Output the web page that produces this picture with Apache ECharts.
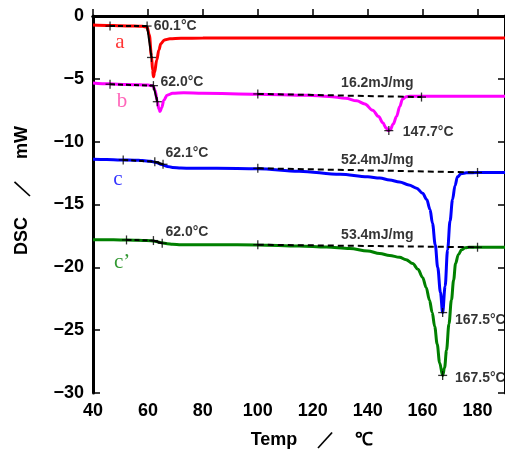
<!DOCTYPE html>
<html><head><meta charset="utf-8">
<script src="https://cdn.jsdelivr.net/npm/echarts@6/dist/echarts.min.js"></script>
<style>html,body{margin:0;padding:0;background:#fff}#c{width:505px;height:456px}</style>
</head><body><div id="c"></div><script>
// ---- data (temperature in °C, DSC in mW) ----
const tempA = [40, 45, 50, 55, 58, 59.7, 60.5, 61.3, 61.7, 62.0, 62.4, 63.2, 64.0, 64.7, 66, 68, 72, 80, 100, 130, 160, 190];
const dscA  = [-0.72, -0.75, -0.78, -0.8, -0.82, -0.88, -1.5, -3.2, -4.3, -4.83, -4.5, -3.5, -2.7, -2.2, -1.9, -1.82, -1.78, -1.76, -1.75, -1.75, -1.75, -1.75];

const tempB = [40, 46, 52, 57, 60, 61.8, 62.6, 63.4, 64.0, 64.4, 65.0, 65.8, 67, 69, 73, 80, 100, 118, 126, 132, 136, 139, 141.8, 144, 145.5, 146.7, 147.5, 148.2, 149.3, 150.5, 151.7, 152.7, 154, 155.5, 160, 170, 190];
const dscB  = [-5.33, -5.4, -5.45, -5.48, -5.5, -5.55, -5.9, -6.8, -7.4, -7.6, -7.3, -6.7, -6.3, -6.15, -6.1, -6.15, -6.22, -6.3, -6.4, -6.55, -6.75, -7.0, -7.5, -8.0, -8.5, -8.9, -9.12, -9.05, -8.6, -8.0, -7.2, -6.6, -6.42, -6.38, -6.38, -6.38, -6.38];

const tempC = [40, 45, 50, 55, 58, 61, 63, 65, 67, 69, 72, 76, 85, 100, 115, 130, 140, 144.4, 148, 151.6, 155, 157.8, 160, 161.5, 162.7, 163.6, 164.6, 165.5, 166.5, 167.3, 168.2, 169.1, 170, 170.9, 171.8, 172.7, 174, 176, 180, 190];
const dscC  = [-11.4, -11.42, -11.45, -11.47, -11.5, -11.56, -11.66, -11.82, -11.97, -12.05, -12.1, -12.12, -12.12, -12.15, -12.35, -12.6, -12.8, -12.9, -13.05, -13.2, -13.45, -13.7, -14.1, -14.6, -15.4, -16.5, -18.2, -20, -22, -23.6, -21.5, -18.6, -16.3, -14.6, -13.5, -12.8, -12.55, -12.48, -12.45, -12.45];

const tempCp = [40, 45, 50, 55, 58, 61, 63, 65, 67, 69, 72, 76, 85, 100, 115, 125, 133.5, 140, 144.4, 148, 151.6, 154, 156.4, 158.3, 160, 161.3, 162.5, 163.5, 164.4, 165.3, 166.2, 167.3, 168, 168.7, 169.6, 170.5, 171.3, 172, 173, 174.2, 175.5, 177, 180, 190];
const dscCp  = [-17.8, -17.8, -17.82, -17.84, -17.86, -17.88, -17.95, -18.05, -18.12, -18.16, -18.2, -18.2, -18.2, -18.22, -18.3, -18.38, -18.5, -18.7, -18.9, -19.05, -19.2, -19.4, -19.7, -20.15, -20.8, -21.6, -22.6, -23.6, -24.7, -26.1, -27.6, -28.6, -28.0, -26.6, -24.5, -22.6, -21.0, -19.7, -19.0, -18.6, -18.45, -18.4, -18.4, -18.4];

// glass-transition construction lines: [baseline start, baseline end (onset), tangent end]
const tgA  = [[46.2, -0.8], [59.7, -0.8], [61.3, -3.3]];
const tgB  = [[46.2, -5.43], [62.0, -5.54], [63.4, -6.82]];
const tgC  = [[51.0, -11.45], [62.5, -11.6], [65.5, -11.8]];
const tgCp = [[52.2, -17.82], [62.0, -17.87], [65.2, -18.08]];
// melting baselines and peaks
const baseB  = [[100, -6.2], [159.6, -6.45]];
const baseC  = [[100, -12.12], [180, -12.45]];
const baseCp = [[100, -18.2], [180, -18.4]];
const peaks  = [[147.7, -9.12], [167.3, -23.6], [167.3, -28.6]];

const xTicks = [40, 60, 80, 100, 120, 140, 160, 180];
const yTicks = [0, -5, -10, -15, -20, -25, -30];

// text annotations
const annTexts = ['60.1°C', '62.0°C', '62.1°C', '62.0°C', '16.2mJ/mg', '52.4mJ/mg', '53.4mJ/mg', '147.7°C', '167.5°C', '167.5°C'];
const annAt    = [[61.9, -0.8], [64.4, -5.25], [66.2, -10.9], [66.2, -17.2], [143.5, -5.33], [143.5, -11.45], [143.5, -17.4], [152.6, -9.23], [171.6, -24.2], [171.6, -28.8]];
const annAlign = ['left', 'left', 'left', 'left', 'center', 'center', 'center', 'left', 'left', 'left'];
const sampleNames = ['a', 'b', 'c', 'c\u2019'];
const sampleAt    = [[49.8, -2.07], [50.6, -6.84], [49.1, -12.97], [50.6, -19.65]];

const colors = ['#ff0000', '#ff00ff', '#0000ff', '#008000'];
const nameColors = ['#ff0000', '#ff3fa8', '#0000ff', '#008000'];

const zip = (xs, ys) => xs.map((x, i) => [x, ys[i]]);
const FONT = 'Liberation Sans, Arial, sans-serif';

const curves = [zip(tempA, dscA), zip(tempB, dscB), zip(tempC, dscC), zip(tempCp, dscCp)];
const series = [];
curves.forEach((d, i) => series.push({
  type: 'line', data: d, showSymbol: false, smooth: 0.35, smoothMonotone: 'x',
  lineStyle: { color: colors[i], width: 3 }, z: 2, silent: true
}));
const tgs = [tgA, tgB, tgC, tgCp];
const allMarkers = [];
tgs.forEach(t => {
  series.push({ type: 'line', data: [t[0], t[1]], showSymbol: false, lineStyle: { color: '#000', width: 2, type: [5, 3] }, z: 4, silent: true });
  series.push({ type: 'line', data: [t[1], t[2]], showSymbol: false, lineStyle: { color: '#000', width: 2 }, z: 4, silent: true });
  allMarkers.push(...t);
});
[baseB, baseC, baseCp].forEach(b => {
  series.push({ type: 'line', data: b, showSymbol: false, lineStyle: { color: '#000', width: 2, type: [6, 4] }, z: 3, silent: true });
  allMarkers.push(...b);
});
allMarkers.push(...peaks);
series.push({ type: 'scatter', data: allMarkers, symbol: 'rect', symbolSize: [9, 1.3], itemStyle: { color: '#000' }, z: 5, silent: true });
series.push({ type: 'scatter', data: allMarkers, symbol: 'rect', symbolSize: [1.3, 9], itemStyle: { color: '#000' }, z: 5, silent: true });

series.push({
  type: 'scatter', symbolSize: 1, itemStyle: { color: 'rgba(0,0,0,0)' }, z: 6, silent: true,
  data: annTexts.map((t, i) => ({
    value: annAt[i],
    label: {
      show: true, formatter: t, position: annAlign[i] === 'left' ? 'right' : 'inside', distance: 0,
      color: '#000', fontSize: 14, fontFamily: FONT, fontWeight: 'bold'
    }
  }))
});
series.push({
  type: 'scatter', symbolSize: 1, itemStyle: { color: 'rgba(0,0,0,0)' }, z: 6, silent: true,
  data: sampleNames.map((t, i) => ({
    value: sampleAt[i],
    label: { show: true, formatter: t, position: 'inside', color: nameColors[i], fontSize: 21, fontFamily: 'Liberation Serif, Times New Roman, serif' }
  }))
});

const chart = echarts.init(document.getElementById('c'), null, { renderer: 'canvas' });
const axisLine = { show: true, lineStyle: { color: '#000', width: 3 } };
chart.setOption({
  animation: false,
  backgroundColor: '#fff',
  grid: { left: 93, right: 0, top: 16, bottom: 63, containLabel: false },
  xAxis: [{
    type: 'value', min: xTicks[0], max: 190, interval: xTicks[1] - xTicks[0], position: 'bottom',
    axisLine, splitLine: { show: false },
    axisTick: { inside: true, length: 7, lineStyle: { color: '#000', width: 1.5 } },
    axisLabel: { fontSize: 18, color: '#000', margin: 9, fontFamily: FONT, fontWeight: 'bold', showMaxLabel: false },
    name: 'Temp    ／    ℃', nameLocation: 'middle', nameGap: 38,
    nameTextStyle: { fontSize: 18, color: '#000', fontFamily: FONT, fontWeight: 'bold', padding: [0, 0, 0, 26] }
  }, {
    type: 'value', min: xTicks[0], max: 190, position: 'top', axisLine,
    axisTick: { show: false }, axisLabel: { show: false }, splitLine: { show: false }
  }],
  yAxis: [{
    type: 'value', min: yTicks[yTicks.length - 1], max: yTicks[0], interval: 5, position: 'left',
    axisLine, splitLine: { show: false },
    axisTick: { inside: true, length: 7, lineStyle: { color: '#000', width: 1.5 } },
    axisLabel: { fontSize: 18, color: '#000', margin: 9, fontFamily: FONT, fontWeight: 'bold', formatter: v => String(v).replace('-', '\u2212') },
    name: 'DSC    ／    mW', nameLocation: 'middle', nameGap: 62,
    nameTextStyle: { fontSize: 18, color: '#000', fontFamily: FONT, fontWeight: 'bold', padding: [0, 0, 0, 28] }
  }, {
    type: 'value', min: -30, max: 0, interval: 5, position: 'right', axisLine,
    axisTick: { inside: true, length: 7, lineStyle: { color: '#000', width: 1.5 } },
    axisLabel: { show: false }, splitLine: { show: false }
  }],
  series
});
</script></body></html>
